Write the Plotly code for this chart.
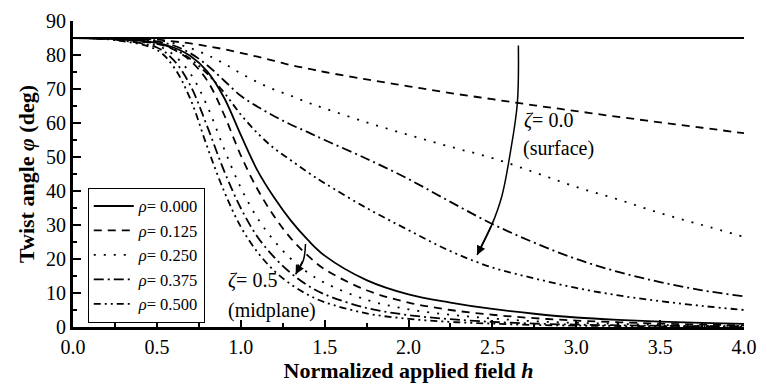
import plotly.graph_objects as go

# ---------------- data ----------------
h = [0, 0.25, 0.5, 0.6, 0.7, 0.8, 0.9, 1.0, 1.1, 1.2, 1.3, 1.4, 1.5,
     1.75, 2.0, 2.25, 2.5, 2.75, 3.0, 3.25, 3.5, 3.75, 4.0]

rho_labels = ["0.000", "0.125", "0.250", "0.375", "0.500"]

# surface (zeta = 0.0)
surf_000 = [85] * 23
surf_125 = [85, 84.9, 84.5, 84.0, 83.4, 82.6, 81.7, 80.6, 79.5, 78.3, 77.0, 76.0, 75.0,
            72.8, 70.8, 68.8, 67.0, 65.2, 63.5, 61.8, 60.2, 58.6, 57.0]
surf_250 = [85, 84.9, 84.3, 83.5, 82.0, 80.0, 77.5, 74.6, 72.0, 69.8, 68.0, 66.0, 64.3,
            60.2, 56.5, 53.0, 49.7, 45.5, 41.2, 37.5, 33.5, 30.0, 26.5]
surf_375 = [85, 84.9, 84.0, 82.8, 80.5, 77.0, 72.5, 68.0, 64.8, 62.0, 59.5, 57.3, 55.0,
            49.5, 43.5, 36.8, 30.3, 24.8, 20.0, 16.2, 13.2, 10.8, 9.0]
surf_500 = [85, 84.8, 83.5, 81.8, 78.8, 74.5, 69.0, 62.5, 57.0, 52.5, 49.0, 45.5, 42.3,
            35.0, 28.5, 22.3, 17.5, 14.3, 11.5, 9.3, 7.6, 6.2, 5.0]

# midplane (zeta = 0.5)
mid_000 = [85, 84.7, 83.6, 82.2, 79.7, 75.2, 67.5, 56.5, 46.0, 38.0, 31.2, 25.6, 21.0,
           13.8, 9.6, 7.2, 5.3, 3.9, 2.8, 2.1, 1.6, 1.2, 0.9]
mid_125 = [85, 84.7, 83.3, 81.6, 78.3, 72.5, 62.5, 50.5, 40.5, 32.5, 26.0, 21.0, 17.0,
           10.8, 7.2, 5.0, 3.6, 2.6, 1.9, 1.4, 1.0, 0.7, 0.5]
mid_250 = [85, 84.6, 82.8, 80.0, 74.5, 65.0, 52.5, 41.0, 32.0, 25.3, 20.0, 16.0, 13.0,
           8.0, 5.2, 3.6, 2.5, 1.7, 1.2, 0.9, 0.6, 0.4, 0.3]
mid_375 = [85, 84.5, 82.2, 78.5, 71.0, 59.0, 46.0, 35.0, 26.5, 20.5, 15.8, 12.2, 9.6,
           5.6, 3.5, 2.3, 1.5, 1.0, 0.7, 0.5, 0.35, 0.25, 0.2]
mid_500 = [85, 84.4, 81.5, 76.5, 67.0, 53.0, 40.0, 29.5, 22.0, 16.5, 12.5, 9.5, 7.3,
           4.0, 2.4, 1.5, 1.0, 0.6, 0.4, 0.3, 0.2, 0.15, 0.1]

surface = [surf_000, surf_125, surf_250, surf_375, surf_500]
midplane = [mid_000, mid_125, mid_250, mid_375, mid_500]

# annotation arrows (path points, data units)
arrow_surf_h = [2.655, 2.649, 2.608, 2.556, 2.497, 2.409]
arrow_surf_phi = [82.8, 65.9, 51.6, 38.4, 30.1, 21.2]
arrow_mid_h = [1.386, 1.374, 1.327]
arrow_mid_phi = [24.4, 19.8, 15.5]

# ---------------- styling ----------------
dashes = ["solid", "8px,6px", "2px,8px", "10px,4px,2px,4px", "7px,4px,2px,4px,2px,4px"]
FONT = "Liberation Serif, DejaVu Serif, serif"
LW = 1.8

fig = go.Figure()
for i, lab in enumerate(rho_labels):
    fig.add_trace(go.Scatter(
        x=h, y=surface[i], mode="lines", line_shape="spline",
        line=dict(color="black", width=LW, dash=dashes[i]),
        name=f"<i>ρ</i>= {lab}", legendgroup=lab, showlegend=True,
        hoverinfo="skip"))
    fig.add_trace(go.Scatter(
        x=h, y=midplane[i], mode="lines", line_shape="spline",
        line=dict(color="black", width=LW, dash=dashes[i]),
        name=f"<i>ρ</i>= {lab}", legendgroup=lab, showlegend=False,
        hoverinfo="skip"))

# curved arrows
fig.add_trace(go.Scatter(x=arrow_surf_h, y=arrow_surf_phi, mode="lines",
                         line_shape="spline", line=dict(color="black", width=1.5),
                         showlegend=False, hoverinfo="skip"))
fig.add_trace(go.Scatter(x=arrow_mid_h, y=arrow_mid_phi, mode="lines",
                         line_shape="spline", line=dict(color="black", width=1.5),
                         showlegend=False, hoverinfo="skip"))
for xs, ys in [(arrow_surf_h, arrow_surf_phi), (arrow_mid_h, arrow_mid_phi)]:
    fig.add_annotation(x=xs[-1], y=ys[-1], ax=xs[-2], ay=ys[-2],
                       xref="x", yref="y", axref="x", ayref="y",
                       text="", showarrow=True, arrowhead=2, arrowsize=1.2,
                       arrowwidth=1.5, arrowcolor="black", standoff=0)

# labels
txt_font = dict(family=FONT, size=20, color="black")
fig.add_annotation(x=2.675, y=60.8, xref="x", yref="y", text="<i>ζ</i>= 0.0",
                   showarrow=False, xanchor="left", yanchor="middle", font=txt_font)
fig.add_annotation(x=2.67, y=52.5, xref="x", yref="y", text="(surface)",
                   showarrow=False, xanchor="left", yanchor="middle", font=txt_font)
fig.add_annotation(x=0.91, y=13.8, xref="x", yref="y", text="<i>ζ</i>= 0.5",
                   showarrow=False, xanchor="left", yanchor="middle", font=txt_font)
fig.add_annotation(x=0.91, y=5.0, xref="x", yref="y", text="(midplane)",
                   showarrow=False, xanchor="left", yanchor="middle", font=txt_font)

fig.update_layout(
    width=767, height=385,
    margin=dict(l=73, r=10, t=13, b=58),
    paper_bgcolor="white", plot_bgcolor="white",
    font=dict(family=FONT, size=20, color="black"),
    showlegend=True,
    legend=dict(x=0.022, y=0.455, xanchor="left", yanchor="top",
                bordercolor="black", borderwidth=1, bgcolor="white",
                font=dict(family=FONT, size=16.5, color="black"),
                tracegroupgap=0, itemwidth=40),
    xaxis=dict(range=[0, 4], dtick=0.5, tickformat=".1f",
               showline=True, linecolor="black", linewidth=3,
               ticks="inside", ticklen=7, tickwidth=2, tickcolor="black",
               minor=dict(dtick=0.25, ticks="inside", ticklen=4, tickwidth=2, tickcolor="black"),
               showgrid=False, zeroline=False, ticklabeloverflow="allow",
               tickfont=dict(family=FONT, size=20),
               title=dict(text="<b>Normalized applied field <i>h</i></b>",
                          font=dict(family=FONT, size=22), standoff=2)),
    yaxis=dict(range=[0, 90], dtick=10,
               showline=True, linecolor="black", linewidth=3,
               ticks="inside", ticklen=8, tickwidth=2, tickcolor="black",
               minor=dict(dtick=5, ticks="inside", ticklen=4, tickwidth=2, tickcolor="black"),
               showgrid=False, zeroline=False,
               tickfont=dict(family=FONT, size=20),
               title=dict(text="<b>Twist angle <i>φ</i> (deg)</b>",
                          font=dict(family=FONT, size=22), standoff=6)),
)

fig.write_html("out.html")
